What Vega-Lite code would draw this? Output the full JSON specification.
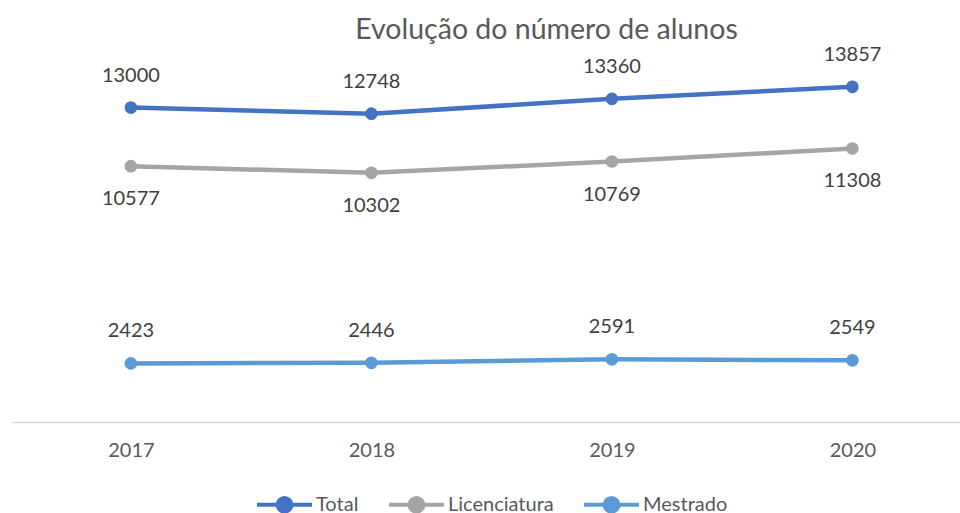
{
  "$schema": "https://vega.github.io/schema/vega-lite/v6.json",
  "width": 949,
  "height": 387,
  "autosize": {"type": "none"},
  "padding": {"left": 11, "top": 35, "right": 0, "bottom": 91},
  "background": "white",
  "title": {
    "text": "Evolução do número de alunos",
    "font": "Lato",
    "fontSize": 28.5,
    "fontWeight": "normal",
    "color": "#595959",
    "anchor": "middle",
    "dx": 61,
    "baseline": "alphabetic",
    "offset": -32
  },
  "data": {
    "values": [
      {"ano": "2017", "serie": "Total", "valor": 13000},
      {"ano": "2018", "serie": "Total", "valor": 12748},
      {"ano": "2019", "serie": "Total", "valor": 13360},
      {"ano": "2020", "serie": "Total", "valor": 13857},
      {"ano": "2017", "serie": "Licenciatura", "valor": 10577},
      {"ano": "2018", "serie": "Licenciatura", "valor": 10302},
      {"ano": "2019", "serie": "Licenciatura", "valor": 10769},
      {"ano": "2020", "serie": "Licenciatura", "valor": 11308},
      {"ano": "2017", "serie": "Mestrado", "valor": 2423},
      {"ano": "2018", "serie": "Mestrado", "valor": 2446},
      {"ano": "2019", "serie": "Mestrado", "valor": 2591},
      {"ano": "2020", "serie": "Mestrado", "valor": 2549}
    ]
  },
  "encoding": {
    "x": {
      "field": "ano",
      "type": "ordinal",
      "scale": {"type": "point", "padding": 0.473, "align": 0.527},
      "axis": {
        "title": null,
        "labelAngle": 0,
        "labelFont": "Lato",
        "labelFontSize": 20,
        "labelColor": "#595959",
        "labelPadding": 18,
        "ticks": false,
        "domainColor": "#D9D9D9",
        "domainWidth": 1.5
      }
    },
    "y": {
      "field": "valor",
      "type": "quantitative",
      "scale": {"domain": [0, 16000], "nice": false},
      "axis": null
    },
    "color": {
      "field": "serie",
      "type": "nominal",
      "sort": ["Total", "Licenciatura", "Mestrado"],
      "scale": {"domain": ["Total", "Licenciatura", "Mestrado"], "range": ["#4472C4", "#A5A5A5", "#5B9BD5"]},
      "legend": {
        "title": null,
        "orient": "none",
        "legendX": 244,
        "legendY": 440,
        "direction": "horizontal",
        "labelFont": "Lato",
        "labelFontSize": 20,
        "labelColor": "#595959",
        "labelOffset": 2,
        "columnPadding": 22,
        "symbolType": "M-1,0L1,0M-0.25,0A0.25,0.25 0 1,0 0.25,0A0.25,0.25 0 1,0 -0.25,0",
        "symbolSize": 3025,
        "symbolStrokeWidth": 4,
        "encode": {
          "symbols": {"update": {"fill": {"scale": "color", "field": "value"}, "fillOpacity": {"value": 1}}}
        }
      }
    }
  },
  "layer": [
    {
      "mark": {"type": "line", "strokeWidth": 4.5, "strokeCap": "round"}
    },
    {
      "mark": {"type": "point", "filled": true, "opacity": 1, "size": 160, "shape": "circle"}
    },
    {
      "transform": [{"filter": "datum.serie !== 'Licenciatura'"}],
      "mark": {"type": "text", "dy": -32, "font": "Lato", "fontSize": 20, "color": "#404040"},
      "encoding": {"text": {"field": "valor", "type": "quantitative", "format": "d"}, "color": {"value": "#404040"}}
    },
    {
      "transform": [{"filter": "datum.serie === 'Licenciatura'"}],
      "mark": {"type": "text", "dy": 33, "font": "Lato", "fontSize": 20, "color": "#404040"},
      "encoding": {"text": {"field": "valor", "type": "quantitative", "format": "d"}, "color": {"value": "#404040"}}
    }
  ],
  "config": {"view": {"stroke": null}}
}
